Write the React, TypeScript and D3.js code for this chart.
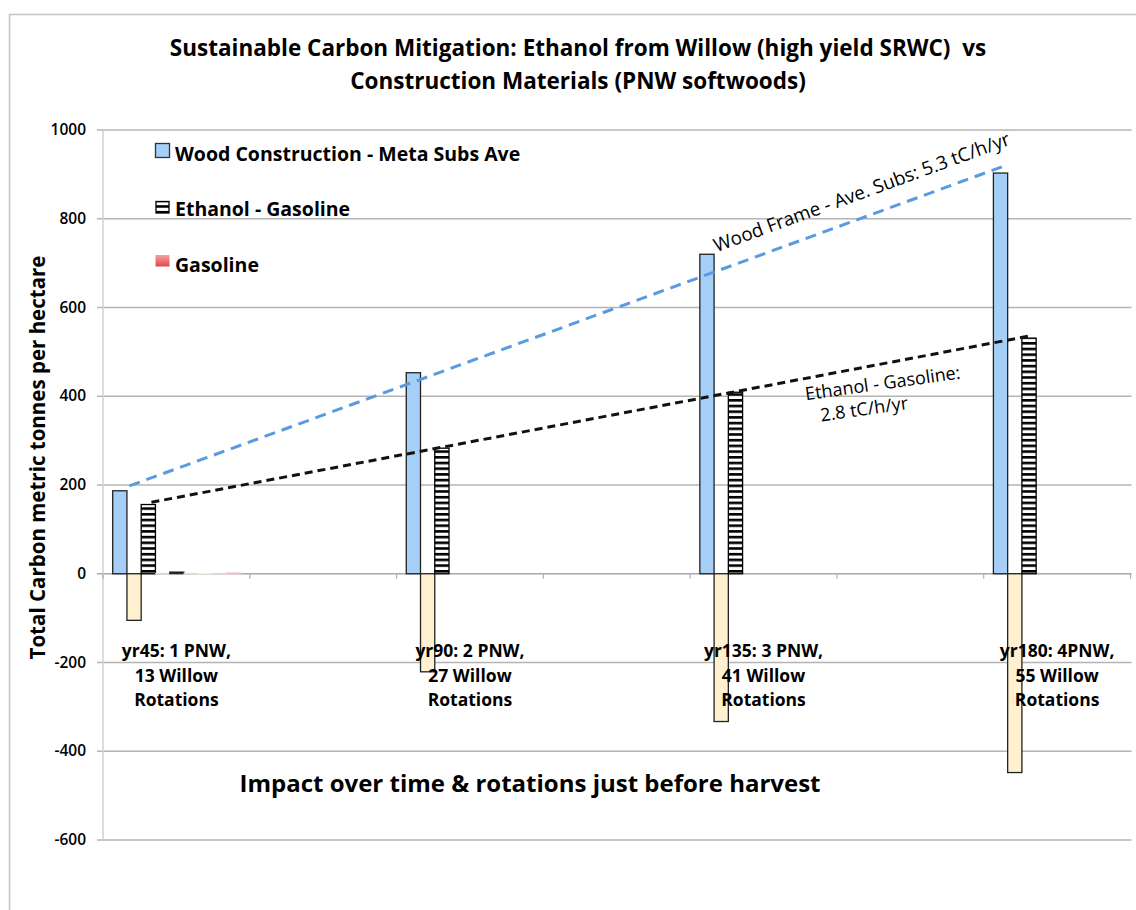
import * as d3 from "d3";
import { useEffect, useRef } from "react";

// categories: 7 slots on the x axis, only every other one holds data
const categories = ["c1", "c2", "c3", "c4", "c5", "c6", "c7"];
const categoryLabels = [
  ["yr45: 1 PNW,", "13 Willow", "Rotations"],
  [],
  ["yr90: 2 PNW,", "27 Willow", "Rotations"],
  [],
  ["yr135: 3 PNW,", "41 Willow", "Rotations"],
  [],
  ["yr180: 4PNW,", "55 Willow", "Rotations"],
];

const seriesNames = ["wood", "woodLoss", "ethGas", "s4", "ethanol", "s6", "s7", "s8", "gasoline"];
const woodConstruction = [187, null, 453, null, 720, null, 903];
const woodLoss = [-105, null, -221, null, -333, null, -448];
const ethanolGasoline = [156, null, 283, null, 409, null, 531];
const series4 = [1, null, 0, null, 0, null, 0];
const ethanol = [4, null, 0, null, 0, null, 0];
const series6 = [1, null, 0, null, 0, null, 0];
const series7 = [1, null, 0, null, 0, null, 0];
const series8 = [1, null, 0, null, 0, null, 0];
const gasoline = [2, null, 0, null, 0, null, 0];
const seriesValues = [woodConstruction, woodLoss, ethanolGasoline, series4, ethanol, series6, series7, series8, gasoline];

const yTicks = [-600, -400, -200, 0, 200, 400, 600, 800, 1000];

// trend lines: [position in category units, value]
const woodTrend: [number, number][] = [[0.18, 198], [6.14, 919]];
const ethanolTrend: [number, number][] = [[0.33, 161], [6.33, 537]];

const legendLabels = ["Wood Construction - Meta Subs Ave", "Ethanol - Gasoline", "Gasoline"];

const FONT = "'Open Sans', 'Noto Sans', sans-serif";

export default function App() {
  const ref = useRef(null);
  const width = 1136;
  const height = 910;

  useEffect(() => {
    draw();
  });

  function draw() {
    const svg = d3.select(ref.current);
    svg.selectAll("*").remove();

    const left = 103;
    const right = 1130.5;
    const x = d3.scaleBand().domain(categories).range([left, right]).padding(0);
    const xPos = d3.scaleLinear().domain([0, 7]).range([left, right]);
    const bw = x.bandwidth();
    const inner = d3
      .scaleBand()
      .domain(seriesNames)
      .range([bw * 0.066, bw * 0.066 + 9 * 14.25])
      .padding(0);
    const y = d3.scaleLinear().domain([-600, 1000]).range([840, 130]);

    const defs = svg.append("defs");
    const pat = defs
      .append("pattern")
      .attr("id", "stripes")
      .attr("patternUnits", "userSpaceOnUse")
      .attr("width", 8)
      .attr("height", 5.7);
    pat.append("rect").attr("width", 8).attr("height", 5.7).attr("fill", "#fff");
    pat.append("rect").attr("width", 8).attr("height", 2.6).attr("fill", "#000");
    const grad = defs
      .append("linearGradient")
      .attr("id", "gasGrad")
      .attr("x1", 0)
      .attr("y1", 0)
      .attr("x2", 0)
      .attr("y2", 1);
    grad.append("stop").attr("offset", "0%").attr("stop-color", "#f4a3a3");
    grad.append("stop").attr("offset", "100%").attr("stop-color", "#e04848");

    // outer frame
    svg
      .append("path")
      .attr("d", "M9.5,910 L9.5,14.5 L1136,14.5")
      .attr("fill", "none")
      .attr("stroke", "#c4c4c4")
      .attr("stroke-width", 1.5);

    // title
    const title = svg
      .append("text")
      .attr("text-anchor", "middle")
      .attr("font-family", FONT)
      .attr("font-weight", 700)
      .attr("font-size", 22.5);
    title.append("tspan").attr("x", 578).attr("y", 56).text("Sustainable Carbon Mitigation: Ethanol from Willow (high yield SRWC)\u00a0\u00a0vs");
    title.append("tspan").attr("x", 578).attr("y", 89).text("Construction Materials (PNW softwoods)");

    // gridlines
    svg
      .append("g")
      .selectAll("line")
      .data(yTicks)
      .enter()
      .append("line")
      .attr("x1", left - 6)
      .attr("x2", right + 1)
      .attr("y1", (d) => y(d))
      .attr("y2", (d) => y(d))
      .attr("stroke", (d) => (d === 0 ? "#a8a8a8" : "#b4b4b4"))
      .attr("stroke-width", 1.3);

    // left axis line
    svg
      .append("line")
      .attr("x1", left)
      .attr("x2", left)
      .attr("y1", y(1000))
      .attr("y2", y(-600))
      .attr("stroke", "#d0d0d0")
      .attr("stroke-width", 1.5);

    // category ticks on zero line
    svg
      .append("g")
      .selectAll("line")
      .data(d3.range(8))
      .enter()
      .append("line")
      .attr("x1", (d) => xPos(d))
      .attr("x2", (d) => xPos(d))
      .attr("y1", y(0))
      .attr("y2", y(0) + 5)
      .attr("stroke", "#b0b0b0")
      .attr("stroke-width", 1.2);

    // y tick labels
    svg
      .append("g")
      .selectAll("text")
      .data(yTicks)
      .enter()
      .append("text")
      .attr("x", 86)
      .attr("y", (d) => y(d) + 5)
      .attr("text-anchor", "end")
      .attr("font-family", FONT)
      .attr("font-weight", 600)
      .attr("font-size", 15.5)
      .text((d) => d);

    // y axis title
    svg
      .append("text")
      .attr("transform", "translate(45," + y(262) + ") rotate(-90)")
      .attr("text-anchor", "middle")
      .attr("font-family", FONT)
      .attr("font-weight", 700)
      .attr("font-size", 20.5)
      .text("Total Carbon metric tonnes per hectare");

    // bars
    const styles = [
      { fill: "#a6cff7", stroke: "#222" },
      { fill: "#fff0d0", stroke: "#222" },
      { fill: "url(#stripes)", stroke: "#000" },
      { fill: "#e8dcf0", stroke: "#e0d4ec" },
      { fill: "#222", stroke: "#222" },
      { fill: "#f6d6d6", stroke: "#f6d6d6" },
      { fill: "#f8f0d0", stroke: "#f8f0d0" },
      { fill: "#cfe0f4", stroke: "#cfe0f4" },
      { fill: "#f4c4c4", stroke: "#f4c4c4" },
    ];
    const barData: { cat: string; s: string; v: number; i: number }[] = [];
    seriesValues.forEach((vals, i) => {
      vals.forEach((v, c) => {
        if (v !== null && v !== 0) barData.push({ cat: categories[c], s: seriesNames[i], v, i });
      });
    });
    svg
      .append("g")
      .selectAll("rect")
      .data(barData)
      .enter()
      .append("rect")
      .attr("x", (d) => (x(d.cat) as number) + (inner(d.s) as number))
      .attr("width", inner.bandwidth())
      .attr("y", (d) => y(Math.max(0, d.v)))
      .attr("height", (d) => Math.max(0.5, Math.abs(y(d.v) - y(0))))
      .attr("fill", (d) => styles[d.i].fill)
      .attr("stroke", (d) => styles[d.i].stroke)
      .attr("stroke-width", (d) => (d.i < 3 ? 1.3 : 1));

    // trend lines
    const line = d3
      .line<[number, number]>()
      .x((d) => xPos(d[0]))
      .y((d) => y(d[1]));
    svg
      .append("path")
      .datum(woodTrend)
      .attr("d", line)
      .attr("fill", "none")
      .attr("stroke", "#5a9ae0")
      .attr("stroke-width", 3)
      .attr("stroke-dasharray", "11,7");
    svg
      .append("path")
      .datum(ethanolTrend)
      .attr("d", line)
      .attr("fill", "none")
      .attr("stroke", "#111")
      .attr("stroke-width", 3)
      .attr("stroke-dasharray", "8,5");

    // trend labels
    const woodAngle =
      (Math.atan2(y(woodTrend[1][1]) - y(woodTrend[0][1]), xPos(woodTrend[1][0]) - xPos(woodTrend[0][0])) * 180) /
      Math.PI;
    const wp = 4.18;
    const wv = woodTrend[0][1] + ((wp - woodTrend[0][0]) / (woodTrend[1][0] - woodTrend[0][0])) * (woodTrend[1][1] - woodTrend[0][1]);
    svg
      .append("text")
      .attr("transform", "translate(" + xPos(wp) + "," + (y(wv) - 19) + ") rotate(" + woodAngle + ")")
      .attr("font-family", FONT)
      .attr("font-size", 18.8)
      .text("Wood Frame - Ave. Subs: 5.3 tC/h/yr");

    const ep = 4.79;
    const ev =
      ethanolTrend[0][1] +
      ((ep - ethanolTrend[0][0]) / (ethanolTrend[1][0] - ethanolTrend[0][0])) * (ethanolTrend[1][1] - ethanolTrend[0][1]);
    const eg = svg
      .append("text")
      .attr("transform", "translate(" + xPos(ep) + "," + (y(ev) + 22) + ") rotate(-8)")
      .attr("font-family", FONT)
      .attr("font-size", 18);
    eg.append("tspan").attr("x", 0).attr("y", 0).text("Ethanol - Gasoline:");
    eg.append("tspan").attr("x", 12).attr("y", 23).text("2.8 tC/h/yr");

    // category labels
    const catG = svg.append("g");
    categories.forEach((c, i) => {
      const cx = (x(c) as number) + bw / 2;
      categoryLabels[i].forEach((t, j) => {
        catG
          .append("text")
          .attr("x", cx)
          .attr("y", 657 + j * 24.5)
          .attr("text-anchor", "middle")
          .attr("font-family", FONT)
          .attr("font-weight", 700)
          .attr("font-size", 17.5)
          .text(t);
      });
    });

    // impact text
    svg
      .append("text")
      .attr("x", 530)
      .attr("y", 792)
      .attr("text-anchor", "middle")
      .attr("font-family", FONT)
      .attr("font-weight", 700)
      .attr("font-size", 24)
      .text("Impact over time & rotations just before harvest");

    // legend
    const lg = svg.append("g");
    const legendY = [161, 215.5, 272];
    lg.append("rect").attr("x", 155.5).attr("y", 143.5).attr("width", 14).attr("height", 14)
      .attr("fill", "#a6cff7").attr("stroke", "#333").attr("stroke-width", 1.3);
    lg.append("rect").attr("x", 156).attr("y", 201.5).attr("width", 13).attr("height", 11.5)
      .attr("fill", "url(#stripes)").attr("stroke", "#000").attr("stroke-width", 1.3);
    lg.append("rect").attr("x", 155.5).attr("y", 255).attr("width", 14).attr("height", 11.5)
      .attr("fill", "url(#gasGrad)");
    legendLabels.forEach((t, i) => {
      lg.append("text")
        .attr("x", 175)
        .attr("y", legendY[i])
        .attr("font-family", FONT)
        .attr("font-weight", 700)
        .attr("font-size", 19.5)
        .text(t);
    });
  }

  return (
    <svg
      ref={ref}
      width={width}
      height={height}
      style={{ position: "absolute", left: 0, top: 0, background: "#fff" }}
    ></svg>
  );
}
